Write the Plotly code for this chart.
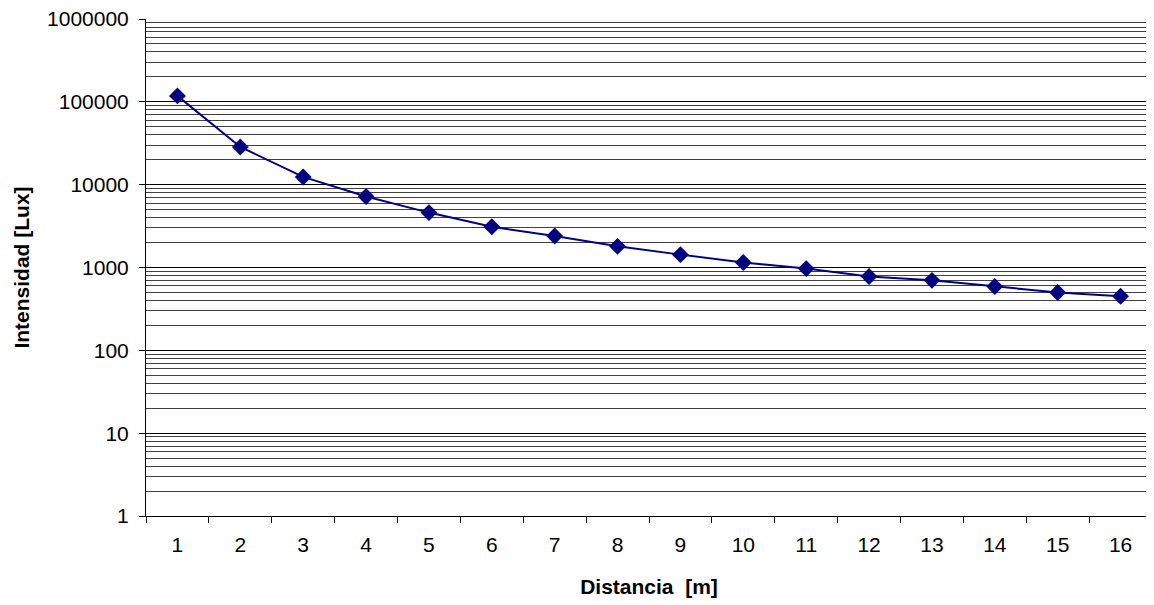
import plotly.graph_objects as go

# Distancia [m] vs Intensidad [Lux]
distancias = [str(d) for d in range(1, 17)]
intensidad = [118000, 28500, 12400, 7200, 4600, 3100, 2400, 1800,
              1430, 1150, 970, 780, 700, 590, 500, 450]

y_major = [1, 10, 100, 1000, 10000, 100000, 1000000]
y_labels = ["1", "10", "100", "1000", "10000", "100000", "1000000"]
y_minor = [m * 10 ** k for k in range(6) for m in range(2, 10)]

font = dict(family="Liberation Sans, Arial, sans-serif", color="black")

fig = go.Figure()

fig.add_trace(go.Scatter(
    x=distancias, y=intensidad,
    mode="lines+markers",
    line=dict(color="#000080", width=2),
    marker=dict(symbol="diamond", size=13, color="#000080"),
    showlegend=False,
))

# the page body adds an 8px offset, so size and margins account for it
fig.update_layout(
    width=1146, height=597,
    margin=dict(l=138, r=2, t=11, b=89),
    paper_bgcolor="white",
    plot_bgcolor="white",
    font=dict(size=21, **font),
    xaxis=dict(
        type="category",
        range=[-0.5, 15.5],
        automargin=False,
        tickson="boundaries",
        ticks="outside", ticklen=6, tickcolor="black",
        ticklabelstandoff=10,
        showline=True, linecolor="black", linewidth=1,
        showgrid=False,
        tickfont=dict(size=21, **font),
        title=dict(text="<b>Distancia  [m]</b>", font=dict(size=21, **font),
                   standoff=24),
    ),
    yaxis=dict(
        type="log",
        range=[0, 6],
        automargin=False,
        tickvals=y_major, ticktext=y_labels,
        ticks="outside", ticklen=6, tickcolor="black",
        ticklabelstandoff=6,
        ticklabeloverflow="allow",
        showline=True, linecolor="black", linewidth=1,
        showgrid=True, gridcolor="black", gridwidth=1,
        zeroline=False,
        tickfont=dict(size=21, **font),
        minor=dict(tickvals=y_minor, showgrid=True,
                   gridcolor="#404040", gridwidth=1, ticks=""),
        title=dict(text="<b>Intensidad [Lux]</b>", font=dict(size=21, **font),
                   standoff=11),
    ),
)

# right border of the plot area
fig.add_shape(type="line", xref="paper", yref="paper",
              x0=1, x1=1, y0=0, y1=1,
              line=dict(color="#808080", width=2))

fig.write_html("out.html")
